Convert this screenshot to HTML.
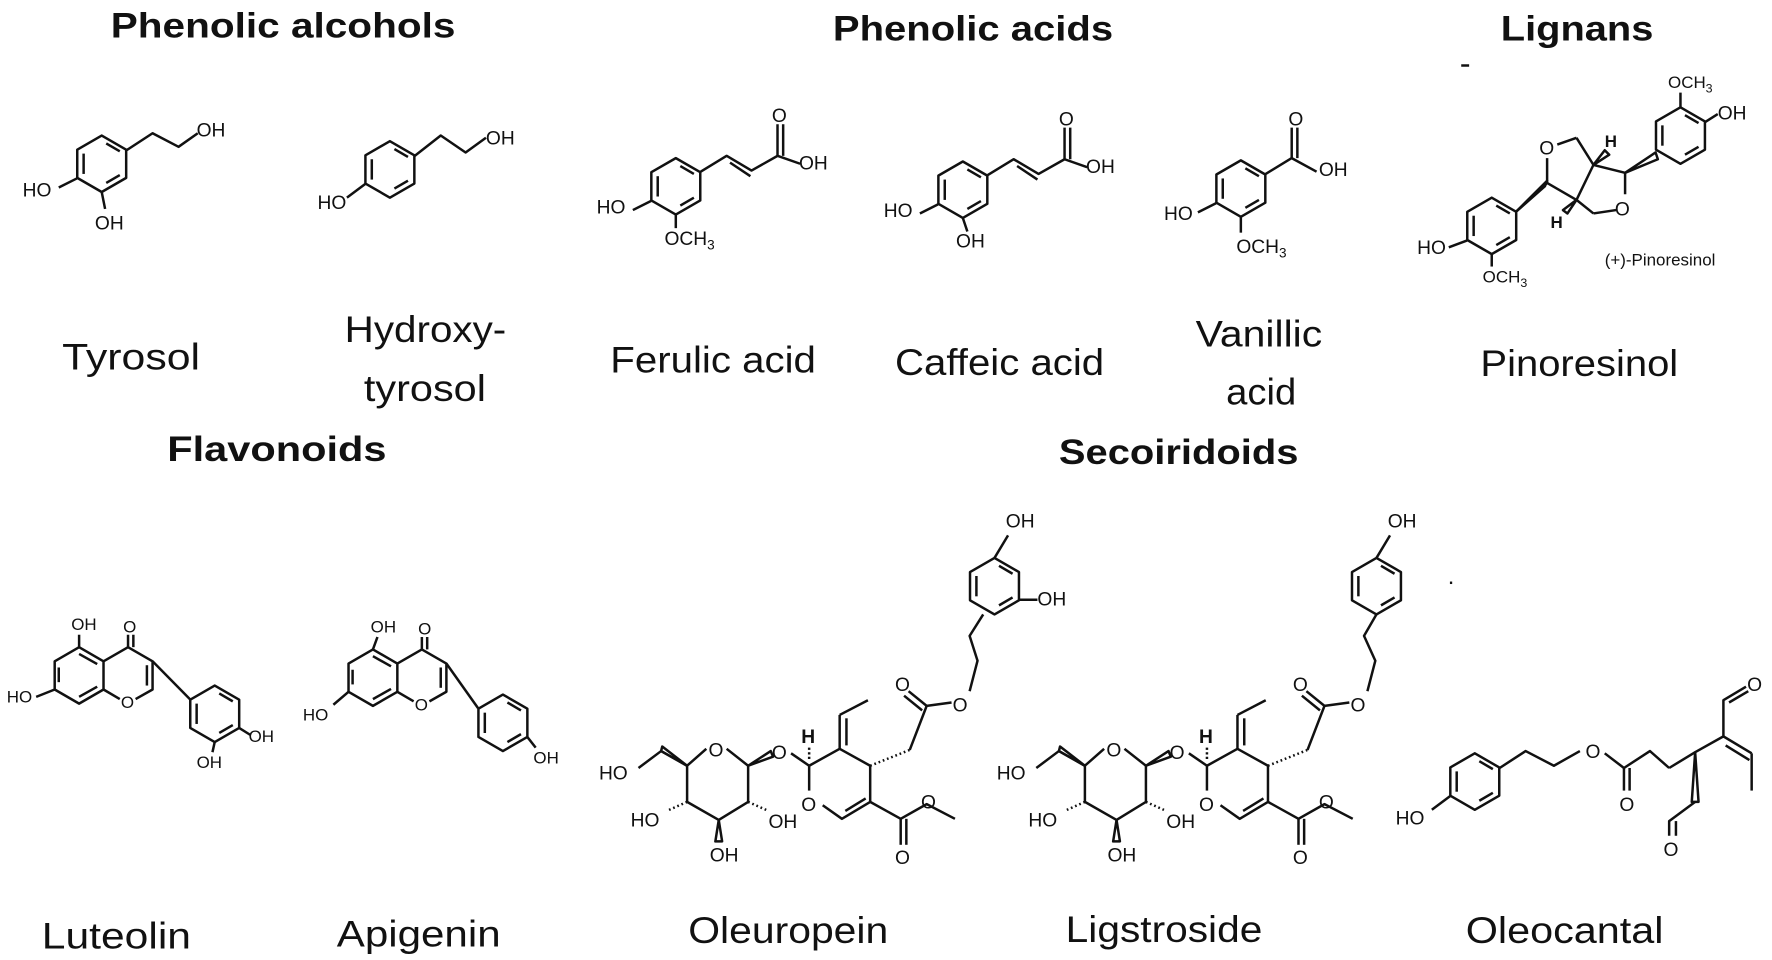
<!DOCTYPE html>
<html><head><meta charset="utf-8"><style>
html,body{margin:0;padding:0;background:#fff;}
svg{display:block}
.t{font-family:"Liberation Sans",Arial,sans-serif;font-weight:bold;font-size:31px;text-anchor:start;fill:#111}
.n{font-family:"Liberation Sans",Arial,sans-serif;font-size:33px;text-anchor:start;fill:#111}
.a{font-family:"Liberation Sans",Arial,sans-serif;font-size:17px;fill:#111}
.s{font-family:"Liberation Sans",Arial,sans-serif;font-size:15px;fill:#111}
path,polygon,line,polyline{fill:none;stroke:#111;stroke-width:2.2;stroke-linejoin:round}
</style></head><body>
<svg width="1772" height="960" viewBox="0 0 1568 850" preserveAspectRatio="none">
<defs>
<polygon id="hx" points="0,-25 21.65,-12.5 21.65,12.5 0,25 -21.65,12.5 -21.65,-12.5"/>
<g id="ar"><use href="#hx"/><line x1="4" y1="-18" x2="16" y2="-11"/><line x1="16" y1="10" x2="4" y2="17"/><line x1="-16" y1="-9" x2="-16" y2="9"/></g>
</defs>
<rect width="1568" height="850" fill="#fff"/>
<!-- titles -->
<text class="t" x="98" y="33" textLength="305" lengthAdjust="spacingAndGlyphs">Phenolic alcohols</text>
<text class="t" x="737" y="36" textLength="248" lengthAdjust="spacingAndGlyphs">Phenolic acids</text>
<text class="t" x="1328" y="36" textLength="135" lengthAdjust="spacingAndGlyphs">Lignans</text>
<text class="t" x="148" y="408" textLength="194" lengthAdjust="spacingAndGlyphs">Flavonoids</text>
<text class="t" x="937" y="411" textLength="212" lengthAdjust="spacingAndGlyphs">Secoiridoids</text>
<!-- names -->
<text class="n" x="55" y="327" textLength="122" lengthAdjust="spacingAndGlyphs">Tyrosol</text>
<text class="n" x="305" y="303" textLength="143" lengthAdjust="spacingAndGlyphs">Hydroxy-</text>
<text class="n" x="322" y="355" textLength="108" lengthAdjust="spacingAndGlyphs">tyrosol</text>
<text class="n" x="540" y="330" textLength="182" lengthAdjust="spacingAndGlyphs">Ferulic acid</text>
<text class="n" x="792" y="332" textLength="185" lengthAdjust="spacingAndGlyphs">Caffeic acid</text>
<text class="n" x="1058" y="307" textLength="112" lengthAdjust="spacingAndGlyphs">Vanillic</text>
<text class="n" x="1085" y="358" textLength="62" lengthAdjust="spacingAndGlyphs">acid</text>
<text class="n" x="1310" y="333" textLength="175" lengthAdjust="spacingAndGlyphs">Pinoresinol</text>
<text class="n" x="37" y="840" textLength="132" lengthAdjust="spacingAndGlyphs">Luteolin</text>
<text class="n" x="298" y="838" textLength="145" lengthAdjust="spacingAndGlyphs">Apigenin</text>
<text class="n" x="609" y="835" textLength="177" lengthAdjust="spacingAndGlyphs">Oleuropein</text>
<text class="n" x="943" y="834" textLength="174" lengthAdjust="spacingAndGlyphs">Ligstroside</text>
<text class="n" x="1297" y="835" textLength="175" lengthAdjust="spacingAndGlyphs">Oleocantal</text>

<!-- Tyrosol (catechol) -->
<use href="#ar" x="90" y="145"/>
<polyline points="112,133 135,118 158,130 175,118"/>
<text class="a" x="174" y="121">OH</text>
<line x1="68" y1="158" x2="52" y2="166"/><text class="a" x="20" y="174">HO</text>
<line x1="90" y1="170" x2="93" y2="185"/><text class="a" x="84" y="203">OH</text>
<!-- Hydroxytyrosol -->
<use href="#ar" x="345" y="150"/>
<polyline points="367,138 390,120 412,135 430,122"/>
<text class="a" x="430" y="128">OH</text>
<line x1="323" y1="163" x2="307" y2="175"/><text class="a" x="281" y="185">HO</text>
<!-- Ferulic -->
<use href="#ar" x="598" y="165"/>
<polyline points="620,152 643,138 665,151 688,138 708,145"/>
<line x1="646" y1="144" x2="664" y2="156"/>
<line x1="688" y1="138" x2="688" y2="110"/><line x1="693" y1="138" x2="693" y2="110"/>
<text class="a" x="683" y="108">O</text><text class="a" x="707" y="150">OH</text>
<line x1="576" y1="178" x2="560" y2="186"/><text class="a" x="528" y="189">HO</text>
<line x1="598" y1="190" x2="598" y2="202"/><text class="a" x="588" y="217">OCH<tspan font-size="12" dy="4">3</tspan></text>
<!-- Caffeic -->
<use href="#ar" x="852" y="168"/>
<polyline points="874,155 897,141 919,154 942,141 962,148"/>
<line x1="900" y1="147" x2="918" y2="159"/>
<line x1="942" y1="141" x2="942" y2="113"/><line x1="947" y1="141" x2="947" y2="113"/>
<text class="a" x="937" y="111">O</text><text class="a" x="961" y="153">OH</text>
<line x1="830" y1="181" x2="814" y2="189"/><text class="a" x="782" y="192">HO</text>
<line x1="852" y1="193" x2="856" y2="205"/><text class="a" x="846" y="219">OH</text>
<!-- Vanillic -->
<use href="#ar" x="1098" y="167"/>
<polyline points="1120,154 1143,140 1165,152"/>
<line x1="1143" y1="140" x2="1143" y2="113"/><line x1="1148" y1="140" x2="1148" y2="113"/>
<text class="a" x="1140" y="111">O</text><text class="a" x="1167" y="156">OH</text>
<line x1="1076" y1="180" x2="1060" y2="188"/><text class="a" x="1030" y="195">HO</text>
<line x1="1098" y1="192" x2="1098" y2="206"/><text class="a" x="1094" y="224">OCH<tspan font-size="12" dy="4">3</tspan></text>
<!-- Pinoresinol -->
<line x1="1293" y1="58" x2="1300" y2="58"/>
<use href="#ar" x="1320" y="200"/>
<use href="#ar" x="1487" y="120"/>
<polygon points="1342,187 1369,160 1367,165" fill="#111"/>
<line x1="1342" y1="187" x2="1369" y2="162"/>
<line x1="1369" y1="162" x2="1369" y2="140"/>
<line x1="1378" y1="128" x2="1395" y2="122"/>
<line x1="1395" y1="122" x2="1410" y2="146"/>
<line x1="1410" y1="146" x2="1395" y2="177"/>
<line x1="1395" y1="177" x2="1369" y2="162"/>
<line x1="1410" y1="146" x2="1438" y2="153"/>
<line x1="1438" y1="153" x2="1438" y2="172"/>
<line x1="1430" y1="186" x2="1410" y2="189"/>
<line x1="1410" y1="189" x2="1395" y2="177"/>
<polygon points="1438,153 1465,135 1467,141" fill="#111"/>
<polygon points="1410,146 1420,133 1424,137" fill="#111"/>
<polygon points="1395,177 1383,186 1387,189" fill="#111"/>
<text class="a" x="1362" y="137">O</text>
<text class="a" x="1429" y="191">O</text>
<text class="s" x="1420" y="130" font-weight="bold">H</text>
<text class="s" x="1372" y="202" font-weight="bold">H</text>
<line x1="1487" y1="95" x2="1487" y2="82"/><text class="s" x="1476" y="78">OCH<tspan font-size="11" dy="4">3</tspan></text>
<line x1="1509" y1="108" x2="1520" y2="101"/><text class="a" x="1520" y="106">OH</text>
<line x1="1298" y1="213" x2="1282" y2="219"/><text class="a" x="1254" y="225">HO</text>
<line x1="1320" y1="225" x2="1320" y2="236"/><text class="s" x="1312" y="250">OCH<tspan font-size="11" dy="4">3</tspan></text>
<text class="s" x="1420" y="235">(+)-Pinoresinol</text>
<!-- Luteolin -->
<polygon points="70,573 91.6,585.5 91.6,610.5 70,623 48.4,610.5 48.4,585.5"/>
<line x1="52" y1="604" x2="52" y2="591"/><line x1="70" y1="617" x2="86" y2="608"/><line x1="70" y1="579" x2="86" y2="588"/>
<polyline points="91.6,585.5 113.3,573 135,585.5 135,610.5 120,619"/>
<line x1="106" y1="619" x2="91.6" y2="610.5"/>
<line x1="130" y1="589" x2="130" y2="607"/>
<line x1="113.3" y1="573" x2="113.3" y2="562"/><line x1="118" y1="573" x2="118" y2="562"/>
<text class="s" x="109" y="560">O</text>
<line x1="70" y1="573" x2="70" y2="562"/><text class="s" x="63" y="558">OH</text>
<line x1="48.4" y1="610.5" x2="32" y2="617"/><text class="s" x="6" y="622">HO</text>
<text class="s" x="107" y="627">O</text>
<line x1="135" y1="585.5" x2="168" y2="619"/>
<use href="#ar" x="190" y="632"/>
<line x1="211.6" y1="644.5" x2="222" y2="651"/><text class="s" x="220" y="657">OH</text>
<line x1="190" y1="657" x2="188" y2="666"/><text class="s" x="174" y="680">OH</text>
<!-- Apigenin -->
<polygon points="330,575 351.6,587.5 351.6,612.5 330,625 308.4,612.5 308.4,587.5"/>
<line x1="312" y1="606" x2="312" y2="593"/><line x1="330" y1="619" x2="346" y2="610"/><line x1="330" y1="581" x2="346" y2="590"/>
<polyline points="351.6,587.5 373.3,575 395,587.5 395,612.5 380,621"/>
<line x1="366" y1="621" x2="351.6" y2="612.5"/>
<line x1="390" y1="591" x2="390" y2="609"/>
<line x1="373.3" y1="575" x2="373.3" y2="564"/><line x1="378" y1="575" x2="378" y2="564"/>
<text class="s" x="370" y="562">O</text>
<line x1="330" y1="575" x2="334" y2="564"/><text class="s" x="328" y="560">OH</text>
<line x1="308.4" y1="612.5" x2="295" y2="624"/><text class="s" x="268" y="638">HO</text>
<text class="s" x="367" y="629">O</text>
<line x1="395" y1="587.5" x2="423" y2="627"/>
<use href="#ar" x="445" y="640"/>
<line x1="466.6" y1="652.5" x2="474" y2="662"/><text class="s" x="472" y="676">OH</text>

<!-- Oleuropein -->
<polyline points="643,663 662,678 662,710 636,726 608,710 608,678 625,663"/>
<text class="a" x="627" y="670">O</text>
<polyline points="608,678 585,665 565,680"/>
<polygon points="608,678 585,665 586,661" fill="#111"/>
<text class="a" x="530" y="690">HO</text>
<polygon points="662,678 682,665 684,670" fill="#111"/>
<text class="a" x="683" y="672">O</text>
<line x1="700" y1="667" x2="716" y2="678"/>
<line x1="716" y1="672" x2="716" y2="660" stroke-dasharray="2 2"/>
<text class="a" x="709" y="658" font-weight="bold">H</text>
<polyline points="716,678 743,663 770,678 770,710 745,725 728,713"/>
<line x1="716" y1="678" x2="716" y2="700"/>
<text class="a" x="709" y="718">O</text>
<line x1="748" y1="718" x2="766" y2="707"/>
<line x1="743" y1="663" x2="743" y2="633"/><line x1="749" y1="660" x2="749" y2="636"/>
<line x1="743" y1="633" x2="768" y2="620"/>
<line x1="770" y1="678" x2="805" y2="664" stroke-dasharray="1.5 2.5" stroke-width="4"/>
<polyline points="805,664 820,625 842,622"/>
<line x1="820" y1="625" x2="804" y2="612"/><line x1="816" y1="629" x2="800" y2="616"/>
<text class="a" x="792" y="612">O</text>
<text class="a" x="843" y="630">O</text>
<polyline points="858,612 865,585 858,563 870,544"/>
<use href="#ar" x="880" y="519"/>
<line x1="880" y1="494" x2="892" y2="474"/><text class="a" x="890" y="467">OH</text>
<line x1="902" y1="531" x2="918" y2="531"/><text class="a" x="918" y="518" dy="18">OH</text>
<polyline points="770,710 797,725 820,712 845,725"/>
<text class="a" x="815" y="716">O</text>
<line x1="797" y1="725" x2="797" y2="748"/><line x1="802" y1="725" x2="802" y2="748"/>
<text class="a" x="792" y="765">O</text>
<line x1="608" y1="710" x2="590" y2="718" stroke-dasharray="1.5 2.5" stroke-width="4"/>
<text class="a" x="558" y="732">HO</text>
<line x1="662" y1="710" x2="680" y2="718" stroke-dasharray="1.5 2.5" stroke-width="4"/>
<text class="a" x="680" y="733">OH</text>
<polygon points="636,726 633,745 639,745" fill="#111"/>
<text class="a" x="628" y="763">OH</text>
<!-- Ligstroside -->
<g transform="translate(352 0)">
<polyline points="643,663 662,678 662,710 636,726 608,710 608,678 625,663"/>
<text class="a" x="627" y="670">O</text>
<polyline points="608,678 585,665 565,680"/>
<polygon points="608,678 585,665 586,661" fill="#111"/>
<text class="a" x="530" y="690">HO</text>
<polygon points="662,678 682,665 684,670" fill="#111"/>
<text class="a" x="683" y="672">O</text>
<line x1="700" y1="667" x2="716" y2="678"/>
<line x1="716" y1="672" x2="716" y2="660" stroke-dasharray="2 2"/>
<text class="a" x="709" y="658" font-weight="bold">H</text>
<polyline points="716,678 743,663 770,678 770,710 745,725 728,713"/>
<line x1="716" y1="678" x2="716" y2="700"/>
<text class="a" x="709" y="718">O</text>
<line x1="748" y1="718" x2="766" y2="707"/>
<line x1="743" y1="663" x2="743" y2="633"/><line x1="749" y1="660" x2="749" y2="636"/>
<line x1="743" y1="633" x2="768" y2="620"/>
<line x1="770" y1="678" x2="805" y2="664" stroke-dasharray="1.5 2.5" stroke-width="4"/>
<polyline points="805,664 820,625 842,622"/>
<line x1="820" y1="625" x2="804" y2="612"/><line x1="816" y1="629" x2="800" y2="616"/>
<text class="a" x="792" y="612">O</text>
<text class="a" x="843" y="630">O</text>
<polyline points="858,612 865,585 855,563 866,544"/>
<use href="#ar" x="866" y="519"/>
<line x1="866" y1="494" x2="878" y2="474"/><text class="a" x="876" y="467">OH</text>
<polyline points="770,710 797,725 820,712 845,725"/>
<text class="a" x="815" y="716">O</text>
<line x1="797" y1="725" x2="797" y2="748"/><line x1="802" y1="725" x2="802" y2="748"/>
<text class="a" x="792" y="765">O</text>
<line x1="608" y1="710" x2="590" y2="718" stroke-dasharray="1.5 2.5" stroke-width="4"/>
<text class="a" x="558" y="732">HO</text>
<line x1="662" y1="710" x2="680" y2="718" stroke-dasharray="1.5 2.5" stroke-width="4"/>
<text class="a" x="680" y="733">OH</text>
<polygon points="636,726 633,745 639,745" fill="#111"/>
<text class="a" x="628" y="763">OH</text>
</g>
<line x1="1283" y1="516" x2="1285" y2="516"/>
<!-- Oleocantal -->
<use href="#ar" x="1305" y="692"/>
<line x1="1283" y1="705" x2="1267" y2="717"/><text class="a" x="1235" y="730">HO</text>
<polyline points="1327,680 1350,665 1375,678 1398,665"/>
<text class="a" x="1403" y="671">O</text>
<polyline points="1420,667 1437,680 1460,665 1477,680"/>
<line x1="1437" y1="680" x2="1437" y2="700"/><line x1="1442" y1="680" x2="1442" y2="700"/>
<text class="a" x="1433" y="718">O</text>
<line x1="1477" y1="680" x2="1500" y2="666"/>
<polygon points="1500,666 1497,710 1503,710" fill="#111"/>
<polyline points="1500,710 1477,727 1477,740"/>
<line x1="1483" y1="727" x2="1483" y2="740"/>
<text class="a" x="1472" y="758">O</text>
<polyline points="1500,666 1525,652 1525,620 1545,608"/>
<line x1="1530" y1="622" x2="1547" y2="612"/>
<text class="a" x="1546" y="612">O</text>
<line x1="1525" y1="652" x2="1550" y2="667"/><line x1="1527" y1="660" x2="1548" y2="673"/>
<line x1="1550" y1="667" x2="1550" y2="700"/>
</svg>
</body></html>
